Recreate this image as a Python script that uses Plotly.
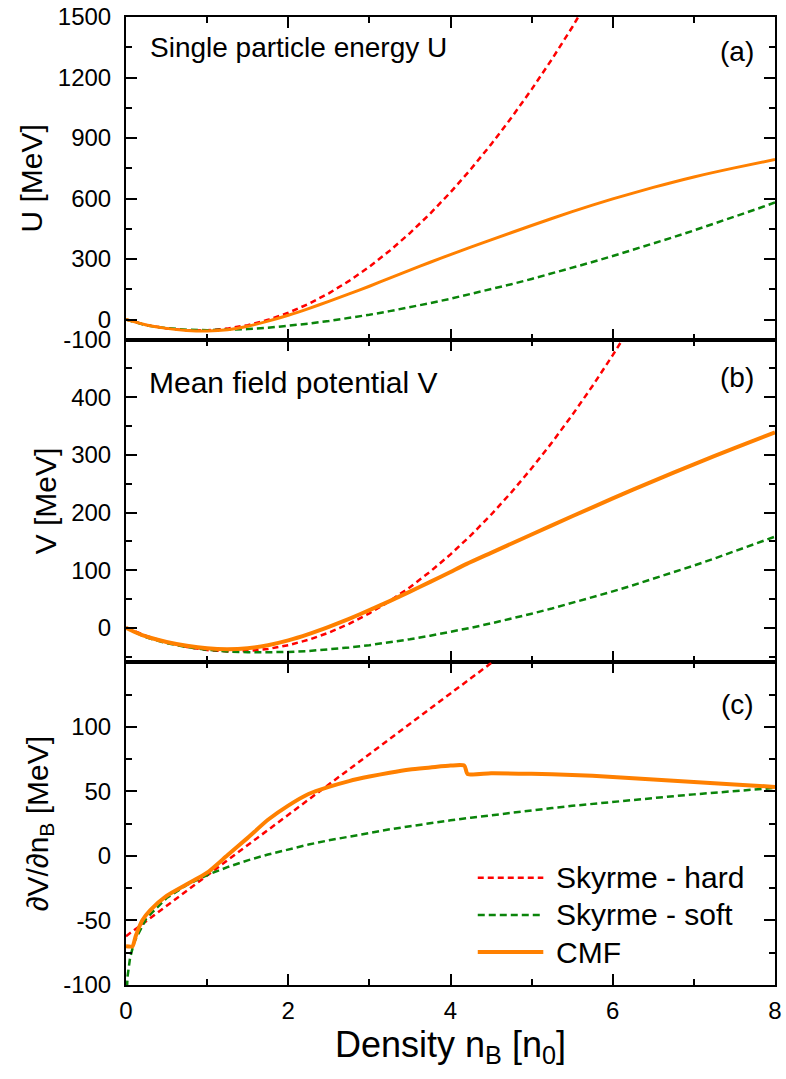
import plotly.graph_objects as go
from plotly.subplots import make_subplots

# ---------------- data (density in units of n0, energies in MeV) ----------------
n_grid = [0.0, 0.25, 0.5, 0.75, 1.0, 1.25, 1.5, 1.75, 2.0, 2.25, 2.5, 2.75, 3.0, 3.25,
          3.5, 3.75, 4.0, 4.25, 4.5, 4.75, 5.0, 5.25, 5.5, 5.75, 6.0, 6.25, 6.5, 6.75,
          7.0, 7.25, 7.5, 7.75, 8.0]

# (a) single particle energy U
u_hard = [0, -26.7, -44.5, -53.6, -53.8, -45.2, -27.8, -1.6, 33.4, 77.2, 129.9, 191.3,
          261.6, 340.7, 428.6, 525.3, 630.8, 745.1, 868.3, 1000.2, 1141.0, 1290.6,
          1449.0, 1616.2, 1792.2]
u_soft = [0, -28.9, -43.0, -50.4, -53.0, -51.9, -47.7, -40.9, -31.8, -20.6, -7.5, 7.3,
          23.6, 41.5, 60.7, 81.3, 103.0, 125.9, 149.9, 175.0, 201.1, 228.2, 256.1,
          285.0, 314.7, 345.2, 376.5, 408.6, 441.5, 475.1, 509.4, 544.4, 580.1]
n_cmf_u = [0, 0.25, 0.5, 0.75, 1.0, 1.25, 1.5, 1.75, 2.0, 2.25, 2.5, 2.75, 3.0, 3.25,
           3.5, 3.75, 4.0, 4.25, 4.5, 5.0, 5.5, 6.0, 6.5, 7.0, 7.5, 8.0]
u_cmf = [0, -27, -44, -54, -57, -51, -33, -8, 21, 54, 90, 127, 165, 205, 245, 284, 322,
         359, 395, 466, 535, 598, 655, 707, 752, 793]

# (b) mean field potential V
v_hard = [0, -14.1, -25.2, -33.4, -38.7, -41.0, -40.4, -36.8, -30.3, -20.9, -8.5, 6.8,
          25.1, 46.2, 70.4, 97.4, 127.4, 160.3, 196.2, 235.0, 276.8, 321.4, 369.1,
          419.6, 473.1, 529.5]
v_soft = [0, -16.8, -26.7, -33.5, -38.2, -41.1, -42.6, -42.8, -42.1, -40.3, -37.7, -34.3,
          -30.2, -25.3, -19.9, -13.8, -7.2, -0.1, 7.6, 15.7, 24.4, 33.4, 42.9, 52.8,
          63.1, 73.8, 84.8, 96.2, 107.9, 120.0, 132.4, 145.2, 158.2]
n_cmf_v = [0, 0.1, 0.2, 0.3, 0.5, 0.75, 1.0, 1.25, 1.5, 1.75, 2.0, 2.25, 2.5, 2.75, 3.0,
           3.25, 3.5, 3.75, 4.0, 4.2, 4.5, 5.0, 5.5, 6.0, 6.5, 7.0, 7.5, 8.0]
v_cmf = [0, -6.9, -12.7, -17.3, -24.6, -31.2, -35.6, -37.1, -35.4, -30.2, -21.9, -11.0,
         1.7, 15.6, 30.5, 46.3, 62.7, 79.6, 96.9, 110.8, 130.0, 161.9, 193.5, 224.5,
         254.6, 283.7, 311.9, 339.1]

# (c) derivative dV/dn_B
dv_hard = [-62.2, -50.4, -38.7, -26.9, -15.2, -3.4, 8.4, 20.1, 31.9, 43.6, 55.4, 67.1,
           78.9, 90.6, 102.4, 114.1, 125.9, 137.6, 149.4, 161.1]
n_soft_dv = [0.005, 0.01, 0.02, 0.05, 0.1] + n_grid[1:]
dv_soft = [-110.5, -102.3, -93.0, -79.0, -66.8, -48.5, -32.6, -22.5, -14.8, -8.7, -3.4,
           1.1, 5.1, 8.8, 12.1, 15.1, 17.9, 20.6, 23.0, 25.4, 27.6, 29.6, 31.6, 33.5,
           35.4, 37.1, 38.8, 40.4, 41.9, 43.4, 44.9, 46.3, 47.7, 49.0, 50.3, 51.5, 52.7]
n_cmf_dv = [0, 0.08, 0.12, 0.2, 0.3, 0.5, 0.75, 1.0, 1.25, 1.5, 1.75, 2.0, 2.25, 2.5,
            2.75, 3.0, 3.25, 3.5, 3.75, 4.0, 4.17, 4.21, 4.5, 5.0, 5.5, 6.0, 6.5, 7.0,
            7.5, 8.0]
dv_cmf = [-70, -70, -62, -50, -42, -31, -22, -13, 0.5, 14, 28, 39, 48, 53.5, 58, 61.5,
          64.5, 67, 68.5, 70, 70, 63.5, 64, 63.6, 62.8, 61.2, 59.2, 57.2, 55.4, 53.5]

series_names = ["Skyrme - hard", "Skyrme - soft", "CMF"]
panel_labels = ["(a)", "(b)", "(c)"]
panel_titles = ["Single particle energy U", "Mean field potential V"]
y_titles = ["U [MeV]", "V [MeV]", "\u2202V/\u2202n<sub>B</sub> [MeV]"]

y_ranges = [[-100, 1500], [-60, 500], [-100, 150]]
y_major = [[-100, 0, 300, 600, 900, 1200, 1500],
           [0, 100, 200, 300, 400],
           [-100, -50, 0, 50, 100]]
y_minor = [[150, 450, 750, 1050, 1350],
           [-50, 50, 150, 250, 350, 450],
           [-75, -25, 25, 75, 125]]

# ---------------- styling ----------------
FONT = "Liberation Sans, Arial, Helvetica, sans-serif"
RED, GREEN, ORANGE = "#ff0000", "#0a840a", "#ff8000"
series_lines = [dict(color=RED, width=2.5, dash="6px,4px"),
                dict(color=GREEN, width=2.5, dash="7px,4px"),
                dict(color=ORANGE, width=4)]

fig = make_subplots(rows=3, cols=1, shared_xaxes=True, vertical_spacing=0)

panels = [
    (n_grid[:len(u_hard)], u_hard, n_grid, u_soft, n_cmf_u, u_cmf, 3),
    (n_grid[:len(v_hard)], v_hard, n_grid, v_soft, n_cmf_v, v_cmf, 4),
    (n_grid[:len(dv_hard)], dv_hard, n_soft_dv, dv_soft, n_cmf_dv, dv_cmf, 4),
]
for row, (xh, yh, xs, ys, xc, yc, wc) in enumerate(panels, start=1):
    fig.add_trace(go.Scatter(x=xh, y=yh, mode="lines", name=series_names[0],
                             showlegend=False, line=series_lines[0]),
                  row=row, col=1)
    fig.add_trace(go.Scatter(x=xs, y=ys, mode="lines", name=series_names[1],
                             showlegend=False, line=series_lines[1]),
                  row=row, col=1)
    fig.add_trace(go.Scatter(x=xc, y=yc, mode="lines", name=series_names[2],
                             showlegend=False,
                             line=dict(color=ORANGE, width=wc, shape="spline",
                                       smoothing=0.6)),
                  row=row, col=1)

axis_common = dict(showline=True, linecolor="black", linewidth=2, mirror="ticks",
                   ticks="inside", ticklen=11, tickwidth=2, tickcolor="black",
                   showgrid=False, zeroline=False, automargin=False,
                   tickfont=dict(family=FONT, size=24, color="black"))
minor_common = dict(ticks="inside", ticklen=6, tickwidth=2, tickcolor="black")

for row in (1, 2, 3):
    fig.update_xaxes(range=[0, 8], tickmode="linear", tick0=0, dtick=2,
                     minor=dict(minor_common, tickmode="linear", tick0=0, dtick=1),
                     ticklabelstandoff=3, row=row, col=1, **axis_common)

for row in (1, 2, 3):
    ticks = y_major[row - 1]
    fig.update_yaxes(range=y_ranges[row - 1], tickmode="array",
                     tickvals=ticks, ticktext=[str(t) for t in ticks],
                     minor=dict(minor_common, tickmode="array",
                                tickvals=y_minor[row - 1]),
                     ticklabelstandoff=8,
                     title=dict(text=y_titles[row - 1],
                                font=dict(family=FONT, size=30, color="black"),
                                standoff=6),
                     row=row, col=1, **axis_common)

fig.update_xaxes(title=dict(text="Density n<sub>B</sub> [n<sub>0</sub>]",
                            font=dict(family=FONT, size=36, color="black"),
                            standoff=6),
                 row=3, col=1)

annotations = []
for i, lab in enumerate(panel_labels):
    annotations.append(dict(text=lab, xref=["x domain", "x2 domain", "x3 domain"][i],
                            yref=["y domain", "y2 domain", "y3 domain"][i], x=0.97,
                            y=[0.892, 0.882, 0.87][i], xanchor="right", yanchor="middle",
                            showarrow=False,
                            font=dict(family=FONT, size=28, color="black")))
for i, txt in enumerate(panel_titles):
    annotations.append(dict(text=txt, xref=["x domain", "x2 domain"][i],
                            yref=["y domain", "y2 domain"][i],
                            x=[0.034, 0.032][i], y=[0.907, 0.867][i],
                            xanchor="left", yanchor="middle", showarrow=False,
                            font=dict(family=FONT, size=[28, 30][i], color="black")))

# legend drawn inside panel (c): key line + label per series
legend_rows = [0.332, 0.217, 0.102]
shapes = []
for name, style, yk in zip(series_names, series_lines, legend_rows):
    shapes.append(dict(type="line", xref="x3 domain", yref="y3 domain",
                       x0=0.542, x1=0.643, y0=yk, y1=yk, line=style))
    annotations.append(dict(text=name, xref="x3 domain", yref="y3 domain",
                            x=0.660, y=yk, xanchor="left", yanchor="middle",
                            showarrow=False,
                            font=dict(family=FONT, size=30, color="black")))

fig.update_layout(
    width=786, height=1079,
    margin=dict(l=126, r=11, t=17, b=94),
    paper_bgcolor="white", plot_bgcolor="white",
    font=dict(family=FONT, color="black"),
    annotations=annotations,
    shapes=shapes,
    showlegend=False,
)

fig.write_html("out.html")
